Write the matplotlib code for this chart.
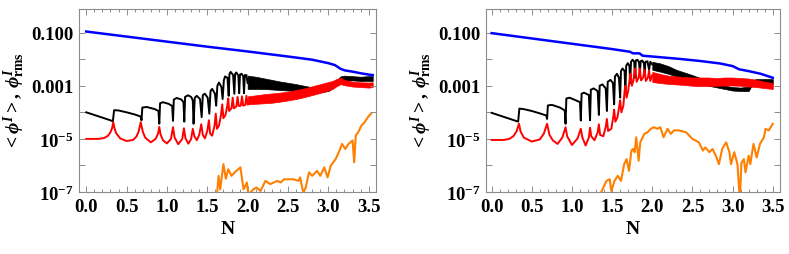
# -*- coding: utf-8 -*-
"""
Two-panel log plot of <phi^I> and phi^I_rms versus N
"""

import matplotlib

matplotlib.use("Agg")
import matplotlib.pyplot as plt
import numpy as np

# ---------------------------------------------------------------------------
# Data.  All y values are log10 of the value.
# "band" arrays give upper / lower edges of densely oscillating regions.

# Left panel
blue_l_x = [0.0, 0.5, 1.0, 1.5, 2.0, 2.5, 2.8, 3.0, 3.08, 3.15, 3.2, 3.3, 3.4, 3.5, 3.55]
blue_l_y = [-0.96, -1.15, -1.34, -1.53, -1.71, -1.9, -2.02, -2.15, -2.22, -2.36, -2.42, -2.47, -2.53, -2.58, -2.6]

black_l_x = [0.0, 0.1, 0.2, 0.3, 0.33, 0.345, 0.4, 0.5, 0.6, 0.675, 0.685, 0.695, 0.75, 0.85,
             0.895, 0.905, 0.915, 0.95, 1.02, 1.065, 1.075, 1.085, 1.12, 1.18, 1.205, 1.215,
             1.225, 1.26, 1.3, 1.32, 1.33, 1.345, 1.37, 1.41, 1.43, 1.445, 1.47, 1.505, 1.525,
             1.54, 1.56, 1.595, 1.61, 1.625, 1.645, 1.675, 1.69, 1.705, 1.72, 1.75, 1.765,
             1.775, 1.79, 1.82, 1.835, 1.845, 1.86, 1.885, 1.895, 1.905, 1.925, 1.945, 1.955,
             1.965, 1.985, 2.0]
black_l_y = [-4.0, -4.1, -4.2, -4.3, -4.34, -3.92, -3.93, -4.0, -4.08, -4.16, -4.3, -3.82, -3.8,
             -3.88, -3.95, -4.43, -3.66, -3.62, -3.68, -3.76, -4.32, -3.52, -3.46, -3.52, -3.62,
             -4.35, -3.42, -3.36, -3.42, -3.55, -4.43, -3.45, -3.38, -3.5, -4.18, -3.35, -3.3,
             -3.45, -4.05, -3.2, -3.12, -3.3, -3.75, -3.0, -2.88, -3.05, -3.5, -2.8, -2.65,
             -2.7, -3.38, -2.55, -2.48, -2.6, -3.3, -2.55, -2.5, -2.62, -3.28, -2.58, -2.55,
             -2.65, -3.28, -2.6, -2.6, -2.9]
black_l_band_x = [2.0, 2.1, 2.2, 2.3, 2.4, 2.5, 2.6, 2.7, 2.8, 2.9, 3.0, 3.05, 3.1, 3.15, 3.2,
                  3.3, 3.4, 3.5, 3.55]
black_l_band_hi = [-2.62, -2.66, -2.72, -2.78, -2.84, -2.89, -2.94, -3.0, -3.06, -3.08, -3.03,
                   -2.93, -2.8, -2.65, -2.62, -2.64, -2.66, -2.64, -2.64]
black_l_band_lo = [-3.12, -3.12, -3.12, -3.14, -3.16, -3.18, -3.2, -3.22, -3.24, -3.24, -3.2,
                   -3.1, -2.96, -2.82, -2.8, -2.8, -2.82, -2.82, -2.82]

red_l_x = [0.0, 0.15, 0.22, 0.27, 0.3, 0.32, 0.335, 0.35, 0.37, 0.42, 0.5, 0.58, 0.62, 0.65,
           0.675, 0.7, 0.73, 0.8, 0.86, 0.89, 0.905, 0.92, 0.95, 1.0, 1.05, 1.075, 1.095, 1.14,
           1.19, 1.21, 1.23, 1.265, 1.3, 1.32, 1.34, 1.37, 1.4, 1.425, 1.445, 1.47, 1.5, 1.52,
           1.535, 1.56, 1.59, 1.605, 1.62, 1.645, 1.67, 1.685, 1.7, 1.725, 1.745, 1.76, 1.77,
           1.8, 1.815, 1.83, 1.86, 1.875, 1.89, 1.915, 1.93, 1.945, 1.97, 1.985, 2.0]
red_l_y = [-5.0, -5.0, -4.97, -4.88, -4.75, -4.6, -4.37, -4.6, -4.78, -4.98, -5.08, -5.04,
           -4.92, -4.72, -4.37, -4.72, -4.95, -5.13, -5.0, -4.8, -4.55, -4.82, -5.05, -5.17,
           -5.0, -4.56, -4.95, -5.2, -5.0, -4.6, -4.98, -5.18, -5.0, -4.62, -4.9, -5.05, -4.85,
           -4.45, -4.85, -4.98, -4.7, -4.3, -4.8, -4.88, -4.5, -4.05, -4.62, -4.5, -4.1, -3.7,
           -4.22, -4.1, -3.8, -3.48, -3.95, -3.85, -3.45, -3.85, -3.78, -3.42, -3.76, -3.75,
           -3.4, -3.75, -3.72, -3.38, -3.7]
red_l_band_x = [2.0, 2.1, 2.2, 2.3, 2.4, 2.5, 2.6, 2.7, 2.8, 2.9, 3.0, 3.05, 3.1, 3.15, 3.2,
                3.3, 3.4, 3.5, 3.55]
red_l_band_hi = [-3.4, -3.36, -3.32, -3.29, -3.26, -3.22, -3.16, -3.1, -3.02, -2.94, -2.86,
                 -2.82, -2.75, -2.7, -2.78, -2.85, -2.87, -2.88, -2.87]
red_l_band_lo = [-3.7, -3.68, -3.66, -3.64, -3.6, -3.55, -3.5, -3.43, -3.35, -3.27, -3.18,
                 -3.12, -3.02, -2.94, -2.98, -3.03, -3.05, -3.07, -3.05]

orange_l_x = [1.62, 1.64, 1.66, 1.7, 1.73, 1.76, 1.8, 1.84, 1.91, 1.95, 1.99, 2.01, 2.07, 2.11,
              2.16, 2.22, 2.28, 2.37, 2.41, 2.45, 2.57, 2.63, 2.65, 2.69, 2.72, 2.76, 2.8, 2.86,
              2.9, 2.95, 2.99, 3.03, 3.09, 3.13, 3.17, 3.21, 3.25, 3.3, 3.32, 3.34, 3.37, 3.41,
              3.45, 3.5, 3.53]
orange_l_y = [-7.1, -6.39, -6.9, -5.95, -6.5, -6.14, -6.39, -6.26, -6.07, -6.9, -6.64, -7.1,
              -6.9, -6.83, -6.96, -6.58, -6.7, -6.58, -6.64, -6.52, -6.52, -6.58, -6.45, -7.02,
              -6.83, -6.26, -6.39, -6.2, -6.39, -6.07, -6.45, -6.01, -5.76, -5.5, -5.19, -5.38,
              -5.19, -5.06, -5.88, -4.87, -4.75, -4.5, -4.37, -4.14, -4.05]

# Right panel
blue_r_x = [0.0, 0.5, 1.0, 1.5, 1.72, 1.76, 1.84, 1.88, 2.0, 2.34, 2.6, 2.84, 3.0, 3.08, 3.2,
            3.35, 3.5]
blue_r_y = [-1.02, -1.22, -1.42, -1.62, -1.72, -1.78, -1.78, -1.87, -1.9, -1.99, -2.07, -2.16,
            -2.26, -2.38, -2.45, -2.55, -2.7]

black_r_x = [0.0, 0.1, 0.2, 0.33, 0.345, 0.4, 0.5, 0.6, 0.68, 0.69, 0.7, 0.75, 0.85, 0.91, 0.92,
             0.93, 0.97, 1.05, 1.1, 1.11, 1.12, 1.15, 1.21, 1.225, 1.235, 1.27, 1.32, 1.335,
             1.345, 1.38, 1.42, 1.435, 1.445, 1.48, 1.51, 1.525, 1.535, 1.56, 1.585, 1.6, 1.61,
             1.63, 1.655, 1.665, 1.675, 1.695, 1.715, 1.725, 1.735, 1.755, 1.775, 1.785, 1.795,
             1.815, 1.835, 1.845, 1.855, 1.875, 1.895, 1.905, 1.915, 1.94, 1.96, 1.975, 2.0]
black_r_y = [-4.02, -4.12, -4.22, -4.35, -3.86, -3.88, -3.95, -4.04, -4.12, -4.25, -3.74, -3.72,
             -3.82, -3.93, -4.43, -3.48, -3.45, -3.55, -3.62, -4.31, -3.3, -3.26, -3.35, -4.3,
             -3.15, -3.1, -3.2, -4.1, -3.0, -2.95, -3.1, -3.95, -2.85, -2.78, -2.9, -3.7, -2.65,
             -2.55, -2.7, -3.45, -2.45, -2.35, -2.45, -3.2, -2.25, -2.15, -2.25, -2.9, -2.1,
             -2.02, -2.1, -2.7, -2.05, -2.02, -2.12, -2.55, -2.08, -2.05, -2.15, -2.5, -2.1,
             -2.08, -2.4, -2.1, -2.2]
black_r_band_x = [2.0, 2.1, 2.2, 2.3, 2.4, 2.5, 2.6, 2.7, 2.8, 2.9, 3.0, 3.1, 3.2, 3.25, 3.3,
                  3.4, 3.5]
black_r_band_hi = [-2.1, -2.16, -2.26, -2.4, -2.5, -2.6, -2.71, -2.81, -2.9, -3.0, -3.05,
                   -3.07, -3.03, -2.78, -2.75, -2.75, -2.75]
black_r_band_lo = [-2.4, -2.47, -2.55, -2.65, -2.74, -2.82, -2.92, -3.0, -3.06, -3.12, -3.18,
                   -3.2, -3.2, -2.92, -2.9, -2.9, -2.92]

red_r_x = [0.0, 0.15, 0.22, 0.27, 0.31, 0.34, 0.36, 0.4, 0.5, 0.6, 0.65, 0.69, 0.72, 0.76, 0.82,
           0.88, 0.92, 0.94, 1.0, 1.07, 1.11, 1.13, 1.17, 1.21, 1.225, 1.24, 1.28, 1.32, 1.335,
           1.35, 1.39, 1.42, 1.435, 1.45, 1.49, 1.515, 1.525, 1.54, 1.565, 1.59, 1.6, 1.615,
           1.64, 1.655, 1.665, 1.68, 1.7, 1.72, 1.73, 1.745, 1.765, 1.78, 1.79, 1.805, 1.83,
           1.845, 1.86, 1.885, 1.905, 1.92, 1.945, 1.96, 1.975, 2.0]
red_r_y = [-5.04, -5.04, -5.0, -4.9, -4.72, -4.43, -4.72, -4.95, -5.1, -5.02, -4.8, -4.43,
           -4.85, -5.05, -5.19, -4.95, -4.56, -4.9, -5.23, -4.98, -4.62, -4.95, -5.25, -4.95,
           -4.58, -4.9, -5.05, -4.75, -4.45, -4.85, -4.9, -4.55, -4.25, -4.7, -4.62, -4.15,
           -3.9, -4.35, -4.2, -3.75, -3.55, -4.0, -3.75, -3.2, -3.0, -3.45, -3.2, -2.7, -2.55,
           -3.0, -2.8, -2.4, -2.35, -2.85, -2.7, -2.35, -2.8, -2.7, -2.4, -2.82, -2.7, -2.42,
           -2.82, -2.6]
red_r_band_x = [2.0, 2.1, 2.2, 2.3, 2.4, 2.5, 2.6, 2.7, 2.8, 2.9, 3.0, 3.1, 3.2, 3.3, 3.4, 3.5]
red_r_band_hi = [-2.48, -2.56, -2.62, -2.65, -2.67, -2.69, -2.69, -2.69, -2.71, -2.69, -2.69,
                 -2.71, -2.73, -2.78, -2.85, -2.9]
red_r_band_lo = [-2.86, -2.9, -2.93, -2.95, -2.97, -3.0, -3.01, -3.01, -3.0, -2.99, -2.99,
                 -3.0, -3.03, -3.05, -3.09, -3.12]

orange_r_x = [1.35, 1.37, 1.43, 1.47, 1.49, 1.53, 1.57, 1.61, 1.65, 1.68, 1.71, 1.74, 1.76,
              1.78, 1.8, 1.83, 1.85, 1.9, 1.94, 1.98, 2.02, 2.06, 2.1, 2.14, 2.19, 2.23, 2.27,
              2.33, 2.42, 2.5, 2.58, 2.63, 2.66, 2.71, 2.75, 2.79, 2.83, 2.87, 2.92, 2.96, 2.98,
              3.02, 3.06, 3.09, 3.11, 3.14, 3.16, 3.2, 3.22, 3.26, 3.3, 3.34, 3.39, 3.41, 3.45,
              3.5]
orange_r_y = [-7.1, -6.96, -6.58, -6.52, -6.96, -6.58, -6.39, -6.58, -5.95, -5.76, -6.2, -5.44,
              -5.38, -5.5, -4.94, -5.82, -5.13, -4.81, -4.75, -4.62, -4.56, -4.62, -4.56, -4.94,
              -4.62, -4.81, -4.68, -4.68, -4.75, -5.0, -5.13, -5.44, -5.32, -5.5, -5.38, -5.63,
              -5.95, -5.38, -5.13, -5.5, -5.95, -5.5, -5.95, -7.3, -5.89, -5.76, -6.26, -5.63,
              -5.95, -5.19, -5.7, -5.19, -4.94, -4.62, -4.68, -4.43]

y_tick_vals = [1e-7, 1e-6, 1e-5, 1e-4, 1e-3, 1e-2, 1e-1]
y_tick_labels = [r"$10^{-7}$", "", r"$10^{-5}$", "", "0.001", "", "0.100"]
x_tick_vals = [0.0, 0.5, 1.0, 1.5, 2.0, 2.5, 3.0, 3.5]
x_tick_labels = ["0.0", "0.5", "1.0", "1.5", "2.0", "2.5", "3.0", "3.5"]

BLUE = "#0000ff"
BLACK = "#000000"
RED = "#ff0000"
ORANGE = "#ff8000"
FRAME = "#8c8c8c"


def to_val(logs):
    return np.power(10.0, np.asarray(logs))


def draw_panel(ax, blue, black, black_band, red, red_band, orange, xlim):
    ax.set_yscale("log")

    ax.plot(blue[0], to_val(blue[1]), color=BLUE, lw=1.8)

    ax.plot(black[0], to_val(black[1]), color=BLACK, lw=1.4)
    ax.fill_between(black_band[0], to_val(black_band[2]), to_val(black_band[1]),
                    color=BLACK, lw=0.5)

    ax.plot(red[0], to_val(red[1]), color=RED, lw=1.4)
    ax.fill_between(red_band[0], to_val(red_band[2]), to_val(red_band[1]),
                    color=RED, lw=0.5)

    ax.plot(orange[0], to_val(orange[1]), color=ORANGE, lw=1.5)

    ax.set_xlim(xlim)
    ax.set_ylim(1e-7, 0.77)

    ax.set_yticks(y_tick_vals, labels=y_tick_labels)
    ax.yaxis.set_minor_locator(matplotlib.ticker.NullLocator())
    ax.set_xticks(x_tick_vals, labels=x_tick_labels)
    ax.xaxis.set_minor_locator(matplotlib.ticker.MultipleLocator(0.1))

    ax.tick_params(which="both", direction="in", top=True, right=True, color=FRAME,
                   labelsize=13.5, width=0.7)
    ax.tick_params(which="major", length=4, pad=4)
    ax.tick_params(which="minor", length=2)
    for spine in ax.spines.values():
        spine.set_color(FRAME)
        spine.set_linewidth(0.8)

    ax.set_xlabel("N", fontsize=14, labelpad=4)
    ax.set_ylabel(r"$<\phi^{I}>,\, \phi^{I}_{\mathrm{rms}}$", fontsize=14, labelpad=3)


def main():
    fig = plt.figure(figsize=(7.89, 2.55), dpi=100)
    ax_l = fig.add_axes([0.1001, 0.243, 0.3764, 0.7176])
    ax_r = fig.add_axes([0.616, 0.243, 0.3726, 0.7176])

    draw_panel(
        ax_l,
        (blue_l_x, blue_l_y),
        (black_l_x, black_l_y),
        (black_l_band_x, black_l_band_hi, black_l_band_lo),
        (red_l_x, red_l_y),
        (red_l_band_x, red_l_band_hi, red_l_band_lo),
        (orange_l_x, orange_l_y),
        (-0.09, 3.59),
    )
    draw_panel(
        ax_r,
        (blue_r_x, blue_r_y),
        (black_r_x, black_r_y),
        (black_r_band_x, black_r_band_hi, black_r_band_lo),
        (red_r_x, red_r_y),
        (red_r_band_x, red_r_band_hi, red_r_band_lo),
        (orange_r_x, orange_r_y),
        (-0.07, 3.59),
    )

    fig.savefig("out.png", dpi=100)


if __name__ == "__main__":
    plt.rcParams["font.family"] = "serif"
    plt.rcParams["font.serif"] = ["Liberation Serif", "DejaVu Serif"]
    plt.rcParams["font.weight"] = "bold"
    plt.rcParams["axes.labelweight"] = "bold"
    plt.rcParams["mathtext.fontset"] = "custom"
    plt.rcParams["mathtext.rm"] = "Liberation Serif:bold"
    plt.rcParams["mathtext.bf"] = "Liberation Serif:bold"
    plt.rcParams["mathtext.it"] = "Liberation Serif:italic:bold"

    main()
